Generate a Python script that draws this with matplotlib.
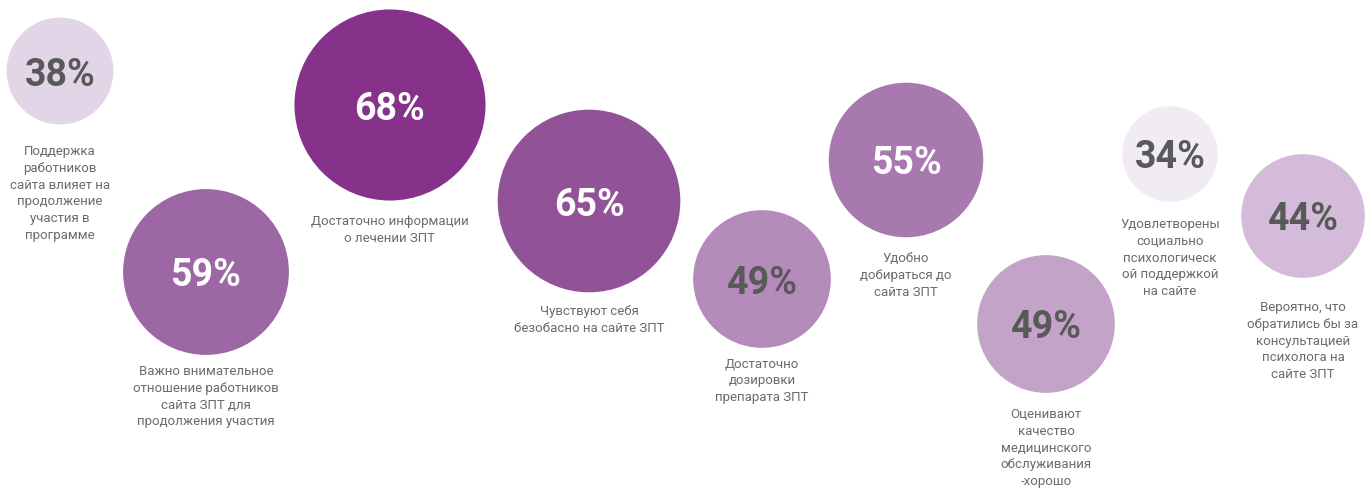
import numpy as np
import matplotlib.pyplot as plt
from matplotlib.patches import Circle

# Данные
values = [38, 59, 68, 65, 49, 55, 49, 34, 44]
labels = [
    "Поддержка\nработников\nсайта влияет на\nпродолжение\nучастия в\nпрограмме",
    "Важно внимательное\nотношение работников\nсайта ЗПТ для\nпродолжения участия",
    "Достаточно информации\nо лечении ЗПТ",
    "Чувствуют себя\nбезобасно на сайте ЗПТ",
    "Достаточно\nдозировки\nпрепарата ЗПТ",
    "Удобно\nдобираться до\nсайта ЗПТ",
    "Оценивают\nкачество\nмедицинского\nобслуживания\n-хорошо",
    "Удовлетворены\nсоциально\nпсихологическ\nой поддержкой\nна сайте",
    "Вероятно, что\nобратились бы за\nконсультацией\nпсихолога на\nсайте ЗПТ",
]

# Расположение (пиксели)
cx = [60, 206, 390, 589, 762, 906, 1046, 1170, 1303]
cy = [71, 272, 105, 201, 279, 160, 324, 154, 216]
label_top = [145, 365, 215, 305, 357, 252, 408, 218, 301]

fills = ['#e3d5e8', '#9d67a6', '#86328a', '#925297', '#b58bbb',
         '#a779ae', '#c3a3c8', '#f1ecf3', '#d4bbd9']
pct_colors = ['#595959', 'white', 'white', 'white', '#595959',
              'white', '#595959', '#595959', '#595959']
k = 1.405  # радиус на 1%

fig = plt.figure(figsize=(13.71, 4.88), dpi=100)
ax = fig.add_axes([0, 0, 1, 1])
ax.set_xlim(0, 1371)
ax.set_ylim(488, 0)
ax.set_aspect('equal')
ax.axis('off')

for i in range(len(values)):
    ax.add_patch(Circle((cx[i], cy[i]), values[i] * k, color=fills[i], lw=0))
    ax.text(cx[i], cy[i] + 4, f"{values[i]}%", ha='center', va='center',
            fontsize=27, fontweight='bold', color=pct_colors[i],
            family=['Roboto', 'DejaVu Sans'])
    ax.text(cx[i], label_top[i], labels[i], ha='center', va='top',
            multialignment='center', fontsize=9.5, color='#6b6b6b',
            linespacing=1.38, family=['Roboto', 'DejaVu Sans'])

fig.savefig('out.png', dpi=100)
